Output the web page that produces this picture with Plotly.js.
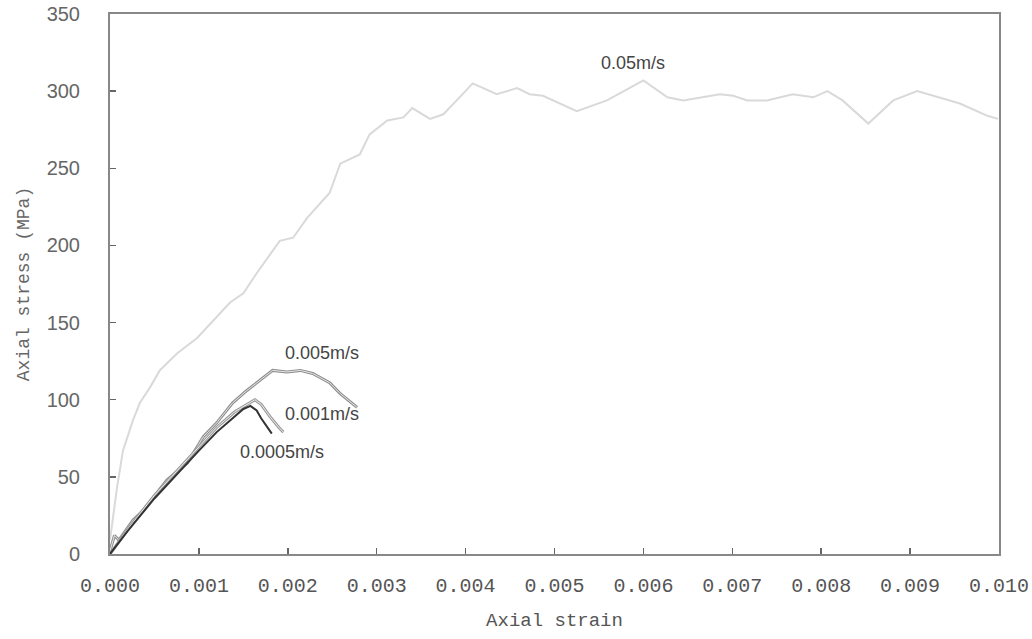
<!DOCTYPE html>
<html>
<head>
<meta charset="utf-8">
<script src="https://cdn.plot.ly/plotly-3.0.1.min.js"></script>
<style>html,body{margin:0;padding:0;background:#fff;}#chart{width:1032px;height:639px;}</style>
</head>
<body>
<div id="chart"></div>
<script>
// 0.05 m/s
const strain005 = [0, 0.000034, 0.000079, 0.000146, 0.00026, 0.000337, 0.00045, 0.00056, 0.000754, 0.00098, 0.00116, 0.00135, 0.0015, 0.00165, 0.00191, 0.00206, 0.00222, 0.00247, 0.00259, 0.00281, 0.00292, 0.00312, 0.0033, 0.0034, 0.0036, 0.00375, 0.0039, 0.00408, 0.00435, 0.00458, 0.00472, 0.00487, 0.00525, 0.00559, 0.006, 0.00627, 0.00645, 0.00686, 0.00701, 0.00717, 0.00739, 0.00768, 0.00791, 0.00807, 0.00824, 0.00853, 0.00881, 0.00908, 0.00956, 0.00987, 0.00999];
const stress005 = [9, 25, 43, 67, 87, 98, 108, 119, 130, 140, 151, 163, 169, 182, 203, 205, 218, 234, 253, 259, 272, 281, 283, 289, 282, 285, 294, 305, 298, 302, 298, 297, 287, 294, 307, 296, 294, 298, 297, 294, 294, 298, 296, 300, 294, 279, 294, 300, 292, 284, 282];
// 0.005 m/s
const strain0005 = [0, 0.00005, 0.0001, 0.00026, 0.00037, 0.00064, 0.00087, 0.00105, 0.0012, 0.00138, 0.00154, 0.00169, 0.00183, 0.00199, 0.00214, 0.00228, 0.00247, 0.00259, 0.00278];
const stress0005 = [2, 12, 9, 22, 28, 48, 59, 76, 85, 98, 106, 113, 119, 118, 119, 117, 111, 104, 95];
// 0.001 m/s
const strain0001 = [0, 0.0002, 0.0005, 0.0008, 0.001, 0.0012, 0.0014, 0.0016, 0.00163, 0.0017, 0.0018, 0.0019, 0.00195];
const stress0001 = [0, 16, 38, 57, 70, 82, 92, 99, 100, 97, 89, 82, 79];
// 0.0005 m/s
const strain00005 = [0, 0.0002, 0.0005, 0.0008, 0.001, 0.0012, 0.0014, 0.0015, 0.00158, 0.00165, 0.0017, 0.0018, 0.00182];
const stress00005 = [0, 15, 36, 55, 67, 79, 89, 94, 96, 93, 88, 80, 78];

const seriesLabels = ["0.05m/s", "0.005m/s", "0.001m/s", "0.0005m/s"];
const labelX = [0.00588, 0.00238, 0.00238, 0.00193];
const labelY = [318, 130, 91, 66];

const xTickVals = [0, 0.001, 0.002, 0.003, 0.004, 0.005, 0.006, 0.007, 0.008, 0.009, 0.010];
const xTickText = ["0.000", "0.001", "0.002", "0.003", "0.004", "0.005", "0.006", "0.007", "0.008", "0.009", "0.010"];
const yTickVals = [0, 50, 100, 150, 200, 250, 300, 350];

const traces = [
  {x: strain005, y: stress005, mode: "lines", line: {color: "#d9d9d9", width: 2}, name: seriesLabels[0]},
  {x: strain0005, y: stress0005, mode: "lines", line: {color: "#8f8f8f", width: 3}, name: seriesLabels[1]},
  {x: strain0005, y: stress0005, mode: "lines", line: {color: "#e6e6e6", width: 1}, name: seriesLabels[1], showlegend: false},
  {x: strain0001, y: stress0001, mode: "lines", line: {color: "#9a9a9a", width: 3}, name: seriesLabels[2]},
  {x: strain0001, y: stress0001, mode: "lines", line: {color: "#eeeeee", width: 1}, name: seriesLabels[2], showlegend: false},
  {x: strain00005, y: stress00005, mode: "lines", line: {color: "#333333", width: 2}, name: seriesLabels[3]}
];

const annotations = seriesLabels.map((t, i) => ({
  x: labelX[i], y: labelY[i], xref: "x", yref: "y", text: t, showarrow: false,
  font: {family: "Arial, Liberation Sans, sans-serif", size: 18, color: "#444"}
}));

const layout = {
  width: 1032, height: 639,
  margin: {l: 110, r: 33, t: 14, b: 85},
  paper_bgcolor: "#fff", plot_bgcolor: "#fff",
  showlegend: false,
  xaxis: {
    range: [0, 0.010], tickvals: xTickVals, ticktext: xTickText,
    ticks: "inside", ticklen: 6, tickcolor: "#666", tickwidth: 1.5,
    showline: true, linecolor: "#888", linewidth: 2, mirror: true,
    showgrid: false, zeroline: false,
    tickfont: {family: "Liberation Mono, DejaVu Sans Mono, monospace", size: 20, color: "#555"},
    ticklabelstandoff: 12,
    title: {text: "Axial strain", font: {family: "Liberation Mono, DejaVu Sans Mono, monospace", size: 19, color: "#555"}, standoff: 16}
  },
  yaxis: {
    range: [0, 350], tickvals: yTickVals,
    ticks: "inside", ticklen: 6, tickcolor: "#666", tickwidth: 1.5,
    showline: true, linecolor: "#888", linewidth: 2, mirror: true,
    showgrid: false, zeroline: false,
    tickfont: {family: "Arial, Liberation Sans, sans-serif", size: 20, color: "#666"},
    ticklabelstandoff: 24,
    title: {text: "Axial stress (MPa)", font: {family: "Liberation Mono, DejaVu Sans Mono, monospace", size: 18, color: "#666"}, standoff: 12}
  },
  annotations: annotations
};

Plotly.newPlot("chart", traces, layout, {displayModeBar: false, staticPlot: true});
</script>
</body>
</html>
